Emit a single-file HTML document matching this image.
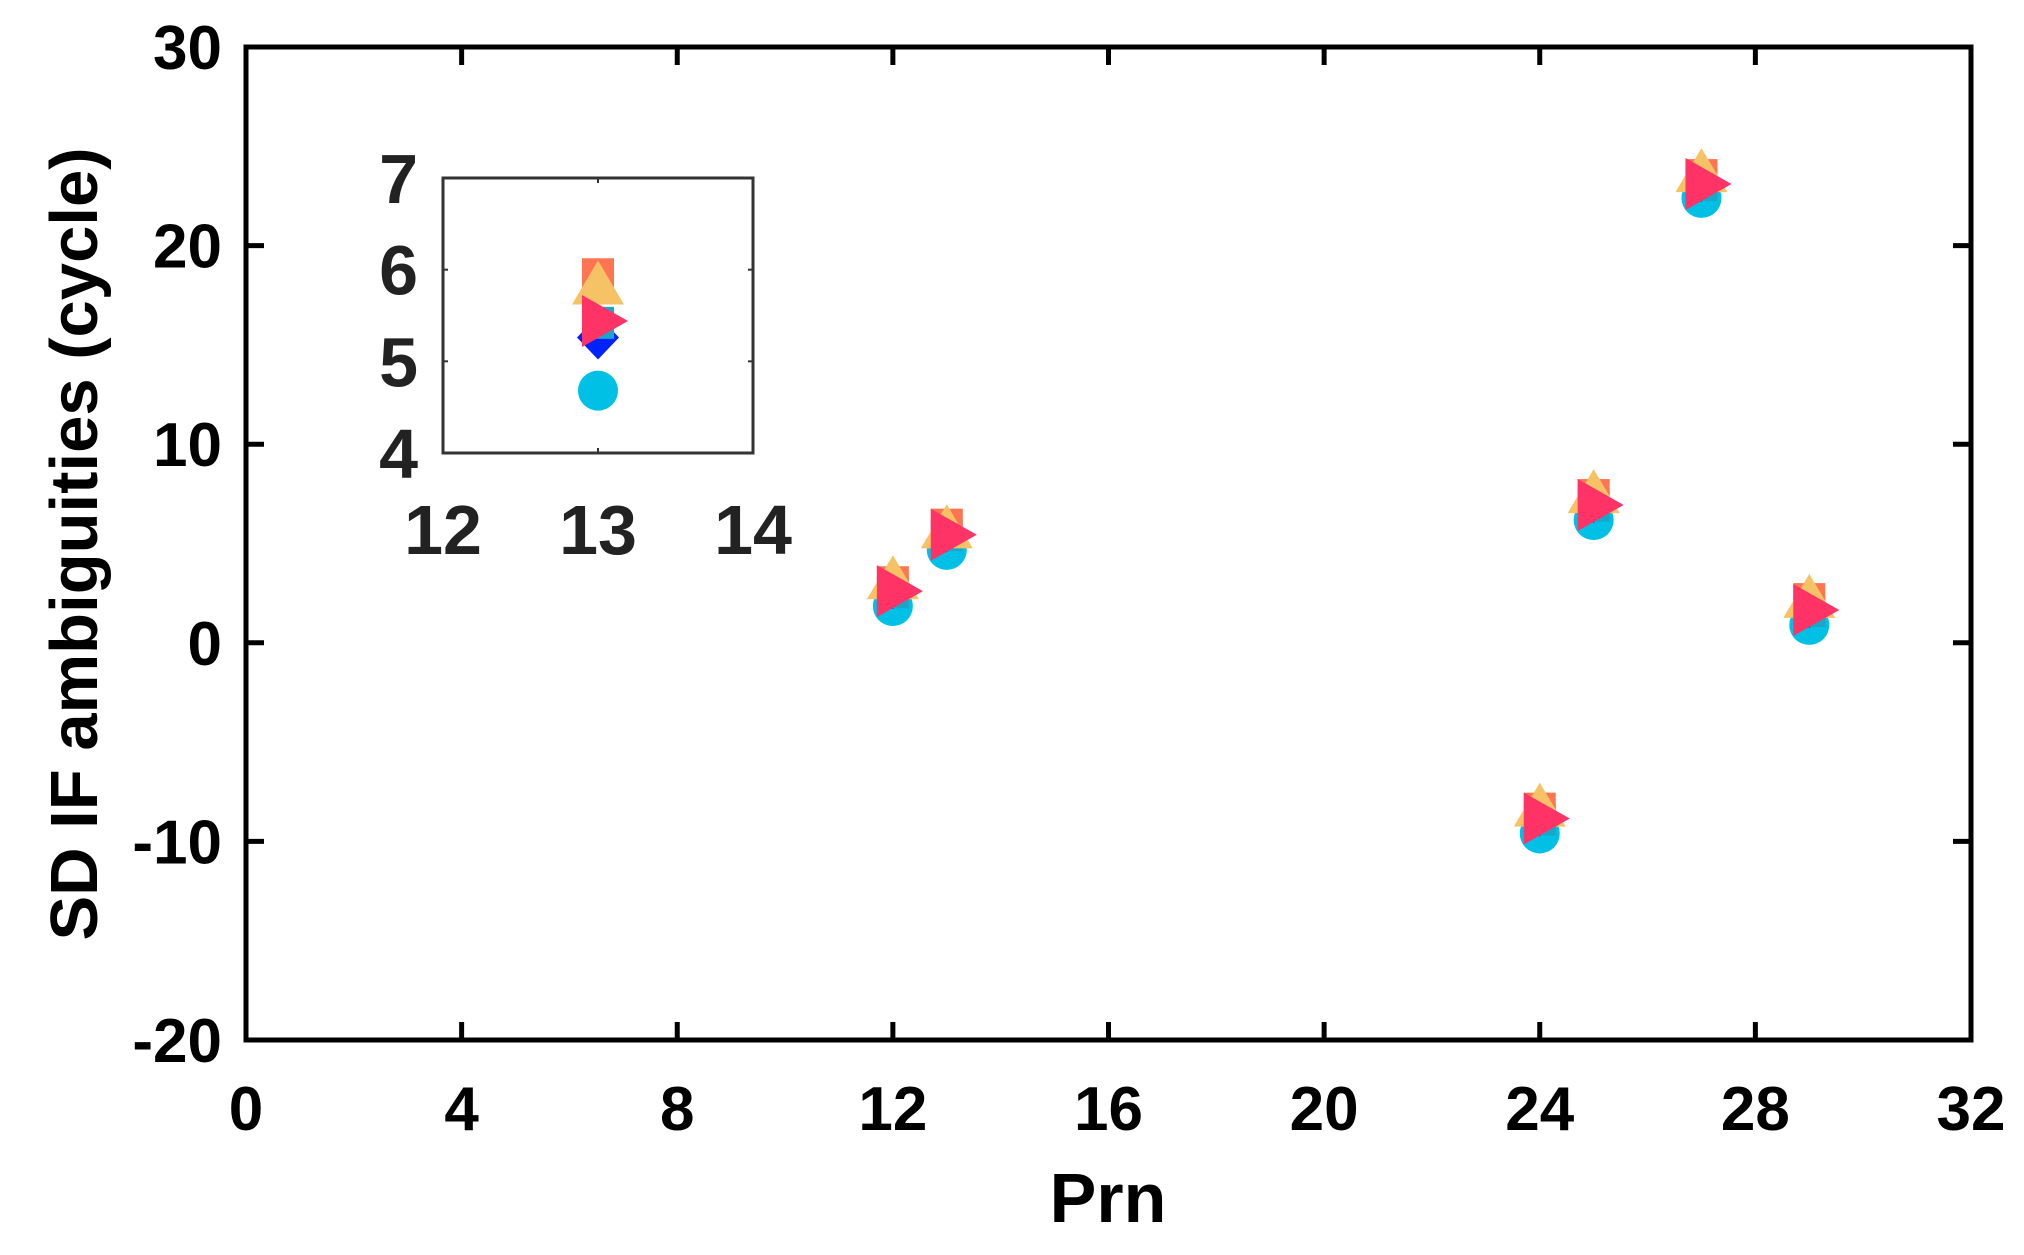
<!DOCTYPE html>
<html><head><meta charset="utf-8"><style>
html,body{margin:0;padding:0;background:#fff}
svg{display:block}
text{font-family:"Liberation Sans",Arial,sans-serif;font-weight:bold}
</style></head><body>
<svg id="chart" width="2024" height="1255" viewBox="0 0 2024 1255" xmlns="http://www.w3.org/2000/svg">
<rect x="0" y="0" width="2024" height="1255" fill="#fff"/>
<g id="main"></g>
<g id="inset"></g>
<text x="1108" y="1222" font-size="70" text-anchor="middle" fill="#000">Prn</text>
<text transform="translate(97,544) rotate(-90)" font-size="67" text-anchor="middle" fill="#000">SD IF ambiguities (cycle)</text>
</svg>
<script>
const prns = [12, 13, 24, 25, 27, 29];
const circleVals = [1.85, 4.68, -9.6, 6.18, 22.4, 0.9];
const diamondVals = [2.4, 5.26, -9.05, 6.74, 22.9, 1.45];
const cyanSquareVals = [2.55, 5.42, -8.9, 6.9, 23.05, 1.6];
const orangeSquareVals = [3.05, 5.95, -8.35, 7.44, 23.55, 2.2];
const triangleVals = [3.3, 5.86, -8.15, 7.64, 23.8, 2.36];
const pinkVals = [2.6, 5.44, -8.85, 6.94, 23.1, 1.65];
const xTicks = [0, 4, 8, 12, 16, 20, 24, 28, 32];
const yTicks = [-20, -10, 0, 10, 20, 30];
const insetXTicks = [12, 13, 14];
const insetYTicks = [4, 5, 6, 7];
const insetIndex = 1;

const NS = 'http://www.w3.org/2000/svg';
function mk(tag, attrs, parent) {
  const e = document.createElementNS(NS, tag);
  for (const k in attrs) e.setAttribute(k, attrs[k]);
  parent.appendChild(e);
  return e;
}
const M = {x0: 246, x1: 1971, y0: 1040, y1: 47, xmin: 0, xmax: 32, ymin: -20, ymax: 30};
const I = {x0: 443, x1: 753, y0: 453, y1: 178, xmin: 12, xmax: 14, ymin: 4, ymax: 7};
function sx(A, v) { return A.x0 + (v - A.xmin) / (A.xmax - A.xmin) * (A.x1 - A.x0); }
function sy(A, v) { return A.y0 - (v - A.ymin) / (A.ymax - A.ymin) * (A.y0 - A.y1); }

function drawMarkers(A, g, idxs, dsz) {
  idxs.forEach(i => {
    const x = sx(A, prns[i]);
    let c = mk('circle', {cx: x, cy: sy(A, circleVals[i]), r: 20, fill: '#00c0e6'}, g);
    
    
    let y = sy(A, diamondVals[i]);
    let d = mk('polygon', {points: `${x},${y-dsz} ${x+dsz-1},${y} ${x},${y+dsz} ${x-dsz+1},${y}`, fill: '#0022ff'}, g);
    
    
    y = sy(A, cyanSquareVals[i]);
    let s1 = mk('rect', {x: x - 16, y: y - 16, width: 32, height: 32, fill: '#1aa6c8'}, g);
    
    
    y = sy(A, orangeSquareVals[i]);
    let s2 = mk('rect', {x: x - 16, y: y - 16, width: 32, height: 32, fill: '#ff7552'}, g);
    
    
    y = sy(A, triangleVals[i]);
    let t = mk('polygon', {points: `${x},${y-22} ${x+26},${y+22} ${x-26},${y+22}`, fill: '#f5c266'}, g);
    
    
    y = sy(A, pinkVals[i]);
    let p = mk('polygon', {points: `${x-16},${y-26} ${x+30},${y} ${x-16},${y+26}`, fill: '#ff3366'}, g);
    
    
  });
}

// main plot
const gm = document.getElementById('main');
drawMarkers(M, gm, prns.map((_, i) => i), 14);
let fr = mk('rect', {x: M.x0, y: M.y1, width: M.x1 - M.x0, height: M.y0 - M.y1, fill: 'none', stroke: '#000', 'stroke-width': 5}, gm);


xTicks.forEach(v => {
  const x = sx(M, v);
  let a = mk('line', {x1: x, y1: M.y0, x2: x, y2: M.y0 - 18, stroke: '#000', 'stroke-width': 5}, gm);
  
  
  let b = mk('line', {x1: x, y1: M.y1, x2: x, y2: M.y1 + 18, stroke: '#000', 'stroke-width': 5}, gm);
  
  
  let t = mk('text', {x: x, y: 1130, 'font-size': 62, 'text-anchor': 'middle', fill: '#000'}, gm);
  t.textContent = v;
  
  
});
yTicks.forEach(v => {
  const y = sy(M, v);
  let a = mk('line', {x1: M.x0, y1: y, x2: M.x0 + 18, y2: y, stroke: '#000', 'stroke-width': 5}, gm);
  
  
  let b = mk('line', {x1: M.x1, y1: y, x2: M.x1 - 18, y2: y, stroke: '#000', 'stroke-width': 5}, gm);
  
  
  let t = mk('text', {x: 222, y: y + 22, 'font-size': 62, 'text-anchor': 'end', fill: '#000'}, gm);
  t.textContent = v;
  
  
});

// inset
const gi = document.getElementById('inset');
let bg = mk('rect', {x: I.x0, y: I.y1, width: I.x1 - I.x0, height: I.y0 - I.y1, fill: '#fff'}, gi);


drawMarkers(I, gi, [insetIndex], 22);
let ifr = mk('rect', {x: I.x0, y: I.y1, width: I.x1 - I.x0, height: I.y0 - I.y1, fill: 'none', stroke: '#333', 'stroke-width': 3}, gi);


insetXTicks.forEach(v => {
  const x = sx(I, v);
  let a = mk('line', {x1: x, y1: I.y0, x2: x, y2: I.y0 - 5, stroke: '#333', 'stroke-width': 2}, gi);
  
  
  let b = mk('line', {x1: x, y1: I.y1, x2: x, y2: I.y1 + 5, stroke: '#333', 'stroke-width': 2}, gi);
  
  
  let t = mk('text', {x: x, y: 554, 'font-size': 70, 'text-anchor': 'middle', fill: '#222'}, gi);
  t.textContent = v;
  
  
});
insetYTicks.forEach(v => {
  const y = sy(I, v);
  let a = mk('line', {x1: I.x0, y1: y, x2: I.x0 + 5, y2: y, stroke: '#333', 'stroke-width': 2}, gi);
  
  
  let b = mk('line', {x1: I.x1, y1: y, x2: I.x1 - 5, y2: y, stroke: '#333', 'stroke-width': 2}, gi);
  
  
  let t = mk('text', {x: 418, y: y + 25, 'font-size': 70, 'text-anchor': 'end', fill: '#222'}, gi);
  t.textContent = v;
  
  
});
</script>
</body></html>
